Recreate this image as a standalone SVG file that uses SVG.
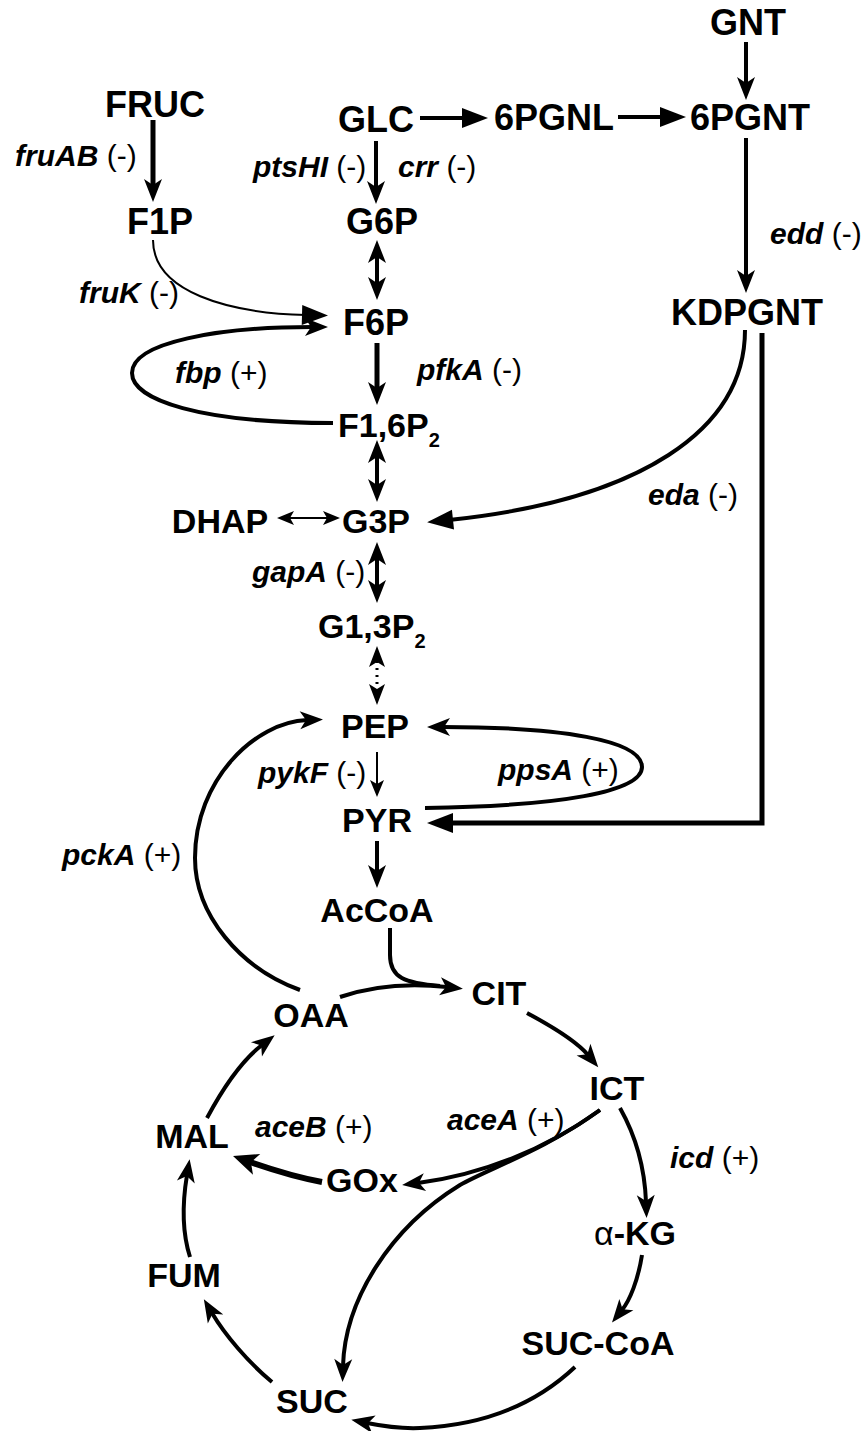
<svg xmlns="http://www.w3.org/2000/svg" width="864" height="1431" viewBox="0 0 864 1431">
<style>
  text { font-family: "Liberation Sans", Arial, Helvetica, sans-serif; fill: #000; }
  .n { font-weight: bold; font-size: 36px; text-anchor: middle; }
  .m { font-weight: bold; font-size: 34px; text-anchor: middle; }
  .s { font-weight: bold; font-size: 34px; }
  .sub { font-size: 20px; }
  .lbl { font-size: 30px; }
  .g { font-weight: bold; font-style: italic; }
  .a { fill: none; stroke: #000; stroke-width: 4; }
  .w5 { stroke-width: 5; }
  .w6 { stroke-width: 6; }
  .w2 { stroke-width: 2; }
  .dot { stroke-width: 3; stroke-dasharray: 2 5; }
  marker path { fill: #000; stroke: none; }
</style>
<defs>
  <!-- solid triangular head -->
  <marker id="tri" markerUnits="userSpaceOnUse" orient="auto" markerWidth="1" markerHeight="1" style="overflow:visible">
    <path d="M-4,-10 L22,0 L-4,10 Z"/>
  </marker>
  <!-- barbed head for heavy lines -->
  <marker id="stl" markerUnits="userSpaceOnUse" orient="auto" markerWidth="1" markerHeight="1" style="overflow:visible">
    <path d="M-7,-9 L16,0 L-7,9 L-1,0 Z"/>
  </marker>
  <marker id="stlR" markerUnits="userSpaceOnUse" orient="auto-start-reverse" markerWidth="1" markerHeight="1" style="overflow:visible">
    <path d="M-7,-9 L16,0 L-7,9 L-1,0 Z"/>
  </marker>
  <marker id="stlL" markerUnits="userSpaceOnUse" orient="auto" markerWidth="1" markerHeight="1" style="overflow:visible">
    <path d="M-7,-11 L18,0 L-7,11 L-1,0 Z"/>
  </marker>
  <!-- medium barbed head for the dotted step -->
  <marker id="midR" markerUnits="userSpaceOnUse" orient="auto-start-reverse" markerWidth="1" markerHeight="1" style="overflow:visible">
    <path d="M-6,-8 L15,0 L-6,8 L-1,0 Z"/>
  </marker>
  <!-- small barbed head for thin lines -->
  <marker id="sm" markerUnits="userSpaceOnUse" orient="auto" markerWidth="1" markerHeight="1" style="overflow:visible">
    <path d="M-4,-7 L13,0 L-4,7 L0,0 Z"/>
  </marker>
  <marker id="smR" markerUnits="userSpaceOnUse" orient="auto-start-reverse" markerWidth="1" markerHeight="1" style="overflow:visible">
    <path d="M-4,-7 L13,0 L-4,7 L0,0 Z"/>
  </marker>
</defs>

<g id="connectors">
  <!-- upper glycolysis / entry routes -->
  <path class="a" d="M746,42 L746,84" marker-end="url(#stl)"/>
  <path class="a w5" d="M153,120 L153,186" marker-end="url(#stl)"/>
  <path class="a" d="M420,118 L466,118" marker-end="url(#tri)"/>
  <path class="a" d="M618,117 L664,117" marker-end="url(#tri)"/>
  <path class="a" d="M376,141 L376,188" marker-end="url(#stl)"/>
  <path class="a" d="M746,138 L746,277" marker-end="url(#stl)"/>
  <path class="a" d="M377,256 L377,284" marker-start="url(#stlR)" marker-end="url(#stlR)"/>
  <path class="a w2" d="M153,240 C153,292 228,313 306,315" marker-end="url(#tri)"/>
  <path class="a" d="M333,423 C200,423 132,400 132,373 C132,342 220,327 312,327" marker-end="url(#stl)"/>
  <path class="a w5" d="M377,343 L377,389" marker-end="url(#stl)"/>
  <path class="a" d="M377,456 L377,486" marker-start="url(#stlR)" marker-end="url(#stlR)"/>
  <path class="a w2" d="M290,518 L327,518" marker-start="url(#smR)" marker-end="url(#smR)"/>
  <path class="a" d="M745,330 C745,430 640,500 449,520" marker-end="url(#tri)"/>
  <path class="a" d="M377,558 L377,587" marker-start="url(#stlR)" marker-end="url(#stlR)"/>
  <path class="a dot" d="M377,661 L377,690" marker-start="url(#midR)" marker-end="url(#midR)"/>
  <!-- PEP / PYR node -->
  <path class="a" d="M300,990 C240,968 195,915 195,858 C195,780 255,722 307,720" marker-end="url(#stl)"/>
  <path class="a" d="M425,808 C560,806 642,792 642,767 C642,740 560,727 443,727" marker-end="url(#stl)"/>
  <path class="a w2" d="M377,752 L377,784" marker-end="url(#sm)"/>
  <path class="a w5" d="M762,333 L762,823 L449,823" marker-end="url(#tri)"/>
  <path class="a" d="M377,841 L377,872" marker-end="url(#stl)"/>
  <!-- TCA cycle and glyoxylate shunt -->
  <path class="a" d="M390,928 L390,955 C390,978 405,983 440,986"/>
  <path class="a" d="M340,997 C375,985 410,983 447,987" marker-end="url(#stl)"/>
  <path class="a" d="M527,1013 C555,1028 578,1043 588,1055" marker-end="url(#stl)"/>
  <path class="a" d="M207,1118 C222,1090 240,1062 262,1045" marker-end="url(#stl)"/>
  <path class="a" d="M600,1110 C545,1150 480,1175 418,1183" marker-end="url(#stl)"/>
  <path class="a" d="M600,1110 C545,1150 490,1168 460,1185 C390,1228 345,1300 343,1366" marker-end="url(#stl)"/>
  <path class="a" d="M620,1108 C638,1140 645,1175 646,1202" marker-end="url(#stl)"/>
  <path class="a w6" d="M322,1182 C295,1177 270,1169 250,1162" marker-end="url(#stlL)"/>
  <path class="a" d="M190,1257 C183,1235 182,1205 187,1175" marker-end="url(#stl)"/>
  <path class="a" d="M272,1382 C248,1362 225,1335 212,1313" marker-end="url(#stl)"/>
  <path class="a" d="M642,1255 C638,1280 630,1300 622,1310" marker-end="url(#stl)"/>
  <path class="a" d="M575,1367 C540,1400 490,1425 420,1428 C398,1429 382,1426 367,1423" marker-end="url(#stl)"/>
</g>

<g id="labels">
  <text class="lbl" x="15" y="166"><tspan class="g">fruAB</tspan> (-)</text>
  <text class="lbl" x="253" y="177"><tspan class="g">ptsHI</tspan> (-)</text>
  <text class="lbl" x="398" y="177"><tspan class="g">crr</tspan> (-)</text>
  <text class="lbl" x="770" y="244"><tspan class="g">edd</tspan> (-)</text>
  <text class="lbl" x="79" y="303"><tspan class="g">fruK</tspan> (-)</text>
  <text class="lbl" x="175" y="383"><tspan class="g">fbp</tspan> (+)</text>
  <text class="lbl" x="417" y="380"><tspan class="g">pfkA</tspan> (-)</text>
  <text class="lbl" x="648" y="505"><tspan class="g">eda</tspan> (-)</text>
  <text class="lbl" x="252" y="582"><tspan class="g">gapA</tspan> (-)</text>
  <text class="lbl" x="498" y="780"><tspan class="g">ppsA</tspan> (+)</text>
  <text class="lbl" x="258" y="783"><tspan class="g">pykF</tspan> (-)</text>
  <text class="lbl" x="62" y="865"><tspan class="g">pckA</tspan> (+)</text>
  <text class="lbl" x="255" y="1137"><tspan class="g">aceB</tspan> (+)</text>
  <text class="lbl" x="447" y="1130"><tspan class="g">aceA</tspan> (+)</text>
  <text class="lbl" x="670" y="1168"><tspan class="g">icd</tspan> (+)</text>
</g>

<g id="GNT"><text class="n" x="748" y="35">GNT</text></g>
<g id="FRUC"><text class="n" x="155" y="117">FRUC</text></g>
<g id="GLC"><text class="n" x="376" y="132">GLC</text></g>
<g id="6PGNL"><text class="n" x="554" y="130">6PGNL</text></g>
<g id="6PGNT"><text class="n" x="750" y="130">6PGNT</text></g>
<g id="F1P"><text class="n" x="160" y="234">F1P</text></g>
<g id="G6P"><text class="n" x="382" y="234">G6P</text></g>
<g id="F6P"><text class="n" x="376" y="335">F6P</text></g>
<g id="KDPGNT"><text class="n" x="747" y="325">KDPGNT</text></g>
<g id="F16P2"><text class="s" x="338" y="437">F1,6P<tspan class="sub" dy="10">2</tspan></text></g>
<g id="DHAP"><text class="m" x="220" y="533">DHAP</text></g>
<g id="G3P"><text class="m" x="376" y="533">G3P</text></g>
<g id="G13P2"><text class="s" x="318" y="638">G1,3P<tspan class="sub" dy="10">2</tspan></text></g>
<g id="PEP"><text class="m" x="375" y="738">PEP</text></g>
<g id="PYR"><text class="m" x="377" y="832">PYR</text></g>
<g id="AcCoA"><text class="m" x="377" y="922">AcCoA</text></g>
<g id="OAA"><text class="m" x="311" y="1027">OAA</text></g>
<g id="CIT"><text class="m" x="499" y="1005">CIT</text></g>
<g id="ICT"><text class="m" x="617" y="1100">ICT</text></g>
<g id="MAL"><text class="m" x="192" y="1148">MAL</text></g>
<g id="GOx"><text class="m" x="362" y="1192">GOx</text></g>
<g id="FUM"><text class="m" x="184" y="1287">FUM</text></g>
<g id="SUC"><text class="m" x="312" y="1413">SUC</text></g>
<g id="aKG"><text class="m" x="635" y="1245"><tspan style="font-weight:normal">α</tspan>-KG</text></g>
<g id="SUCCoA"><text class="m" x="598" y="1355">SUC-CoA</text></g>
</svg>
